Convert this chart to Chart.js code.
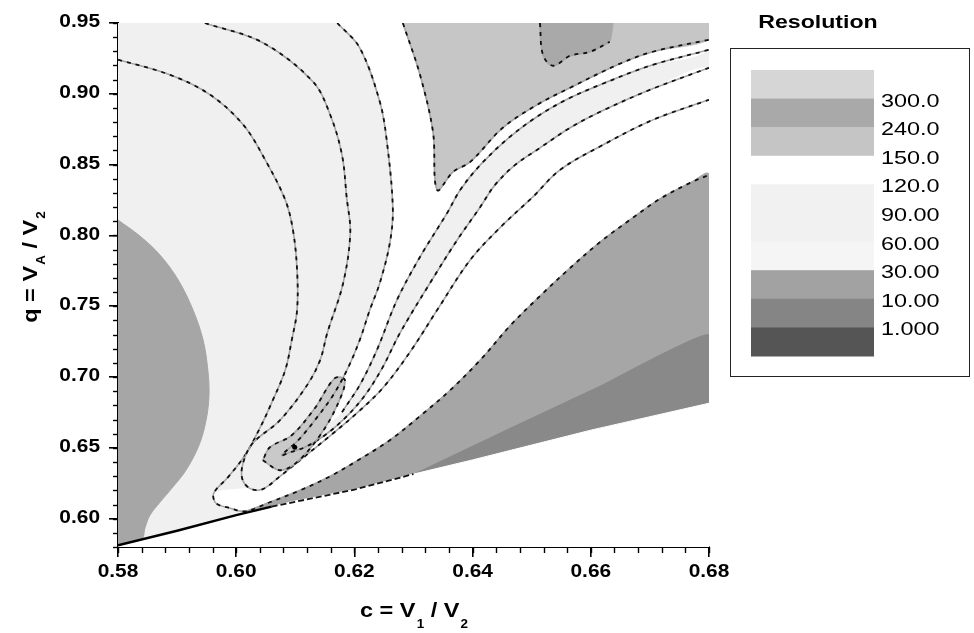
<!DOCTYPE html>
<html>
<head>
<meta charset="utf-8">
<title>Resolution contour map</title>
<script src="https://cdn.jsdelivr.net/npm/chart.js@4.4.1/dist/chart.umd.min.js"></script>
<style>
html,body{margin:0;padding:0;background:#ffffff;}
#box{position:relative;width:974px;height:633px;}
</style>
</head>
<body>
<div id="box"><canvas id="chart" width="974" height="633"></canvas></div>
<script>
// ---------------- axis ticks ----------------
const xTicks = [0.58, 0.60, 0.62, 0.64, 0.66, 0.68];
const yTicks = [0.60, 0.65, 0.70, 0.75, 0.80, 0.85, 0.90, 0.95];
const xMinorStep = 0.004;
const yMinorStep = 0.01;
const xTitleParts = [['c = V', false], ['1', true], [' / V', false], ['2', true]];
const yTitleParts = [['q = V', false], ['A', true], [' / V', false], ['2', true]];

// ---------------- legend ----------------
const legendTitle = 'Resolution';
const legendLevels = ['300.0', '240.0', '150.0', '120.0', '90.00', '60.00', '30.00', '10.00', '1.000'];

// ---------------- region boundaries (c = V1/V2 , q = VA/V2) ----------------
// lower edge of the valid domain
const domainEdgeC = [0.58, 0.59, 0.60, 0.61, 0.62, 0.63, 0.64, 0.65, 0.66, 0.67, 0.68];
const domainEdgeQ = [0.5812, 0.5915, 0.6025, 0.6125, 0.6205, 0.6315, 0.6415, 0.6520, 0.6625, 0.6720, 0.6815];
// outer contour, left branch
const outerLeftC = [0.58, 0.5888, 0.5956, 0.6012, 0.6049, 0.6083, 0.6096, 0.6103, 0.6103, 0.6094, 0.6083, 0.6062, 0.6040, 0.6015, 0.5986, 0.5962, 0.5966, 0.5990];
const outerLeftQ = [0.9241, 0.9134, 0.8993, 0.8781, 0.8534, 0.8251, 0.8039, 0.7756, 0.7473, 0.7261, 0.7049, 0.6837, 0.6639, 0.6448, 0.6292, 0.6179, 0.6109, 0.6074];
// edge of the lower-right grey region (outer contour, right branch)
const mediumEdgeC = [0.6015, 0.6057, 0.6108, 0.6159, 0.6209, 0.6260, 0.6311, 0.6362, 0.6413, 0.6463, 0.6514, 0.6565, 0.6616, 0.6666, 0.6717, 0.6768, 0.68];
const mediumEdgeQ = [0.6052, 0.6116, 0.6200, 0.6299, 0.6420, 0.6554, 0.6724, 0.6907, 0.7120, 0.7360, 0.7572, 0.7770, 0.7954, 0.8109, 0.8258, 0.8371, 0.8427];
// darkest wedge upper edge
const darkEdgeC = [0.6286, 0.6446, 0.6616, 0.68];
const darkEdgeQ = [0.6285, 0.6603, 0.6936, 0.7296];
// second contour
const midLeftC = [0.5947, 0.6045, 0.6130, 0.6159, 0.6179, 0.6187, 0.6193, 0.6181, 0.6154, 0.6142, 0.6120, 0.6074, 0.6028, 0.6012, 0.6010, 0.6023, 0.6044];
const midLeftQ = [0.95, 0.9361, 0.9085, 0.8852, 0.8569, 0.8265, 0.8017, 0.7664, 0.7310, 0.7120, 0.6943, 0.6695, 0.6533, 0.6399, 0.6285, 0.6214, 0.6207];
const midRightC = [0.6074, 0.6108, 0.6164, 0.6206, 0.6248, 0.6294, 0.6340, 0.6396, 0.6451, 0.6502, 0.6548, 0.6621, 0.6705, 0.68];
const midRightQ = [0.6299, 0.6413, 0.6603, 0.6752, 0.6922, 0.7176, 0.7473, 0.7827, 0.8074, 0.8272, 0.8463, 0.8640, 0.8816, 0.8958];
// third contour
const innerLeftC = [0.6171, 0.6209, 0.6243, 0.6255, 0.6265, 0.6260, 0.6243, 0.6226, 0.6209, 0.6189, 0.6164, 0.6133, 0.6105, 0.6077];
const innerLeftQ = [0.95, 0.9325, 0.8944, 0.8661, 0.8194, 0.7947, 0.7664, 0.7473, 0.7261, 0.7063, 0.6872, 0.6695, 0.6554, 0.6448];
const innerRightC = [0.6091, 0.6116, 0.6150, 0.6184, 0.6218, 0.6248, 0.6277, 0.6328, 0.6374, 0.6413, 0.6438, 0.6472, 0.6514, 0.6565, 0.6616, 0.6700, 0.68];
const innerRightQ = [0.6469, 0.6504, 0.6589, 0.6710, 0.6872, 0.7070, 0.7310, 0.7664, 0.7968, 0.8201, 0.8357, 0.8498, 0.8618, 0.8760, 0.8873, 0.9028, 0.9184];
// branch contour next to the white band
const branchC = [0.6179, 0.6209, 0.6238, 0.6272, 0.6311, 0.6357, 0.6379, 0.6413, 0.6463, 0.6514, 0.6565, 0.6616, 0.6700, 0.68];
const branchQ = [0.6752, 0.6943, 0.7190, 0.7544, 0.7848, 0.8159, 0.8321, 0.8498, 0.8696, 0.8852, 0.8972, 0.9064, 0.9198, 0.9311];
// upper grey plateau (150-240)
const plateauC = [0.6282, 0.6311, 0.6333, 0.6340, 0.6367, 0.6396, 0.6451, 0.6509, 0.6565, 0.6649, 0.6705, 0.68];
const plateauQ = [0.95, 0.9134, 0.8731, 0.8321, 0.8449, 0.8519, 0.8760, 0.8922, 0.9043, 0.9212, 0.9297, 0.9382];
// top peak patch (240-300)
const peakC = [0.6514, 0.6519, 0.6536, 0.6565, 0.6599, 0.6632, 0.6638];
const peakQ = [0.95, 0.9276, 0.9198, 0.9269, 0.9297, 0.9368, 0.95];
// small grey patch in the valley
const valleyC = [0.6045, 0.6074, 0.6103, 0.6142, 0.6171, 0.6184, 0.6167, 0.6133, 0.6094, 0.6057];
const valleyQ = [0.6413, 0.6342, 0.6399, 0.6589, 0.6801, 0.6978, 0.6992, 0.6780, 0.6589, 0.6504];
const valleyDotC = [0.6099];
const valleyDotQ = [0.6504];
// left grey lobe
const blobC = [0.58, 0.5837, 0.5871, 0.5902, 0.5927, 0.5944, 0.5952, 0.5954, 0.5949, 0.5937, 0.5915, 0.5891, 0.5871, 0.5854, 0.5846, 0.5839, 0.58];
const blobQ = [0.8109, 0.7996, 0.7862, 0.7685, 0.7473, 0.7261, 0.7049, 0.6872, 0.6695, 0.6518, 0.6342, 0.6214, 0.6116, 0.6024, 0.5939, 0.5847, 0.5812];
// axis extents
const cRange = [0.58, 0.68];
const qRange = [0.58, 0.95];

// ---------------- build ----------------
const P = (cs, qs) => cs.map((c, i) => ({x: c, y: qs[i]}));
const rev = a => a.slice().reverse();
const corner = (c, q) => ({x: c, y: q});

const domainEdge = P(domainEdgeC, domainEdgeQ);
const outerLeft = P(outerLeftC, outerLeftQ);
const mediumEdge = P(mediumEdgeC, mediumEdgeQ);
const darkEdge = P(darkEdgeC, darkEdgeQ);
const midLeft = P(midLeftC, midLeftQ);
const midRight = P(midRightC, midRightQ);
const innerLeft = P(innerLeftC, innerLeftQ);
const innerRight = P(innerRightC, innerRightQ);
const branch = P(branchC, branchQ);
const plateau = P(plateauC, plateauQ);
const peak = P(peakC, peakQ);
const valley = P(valleyC, valleyQ);
const blob = P(blobC, blobQ);

const C = {
  base: '#f0f0f0', white: '#ffffff', plateau: '#c6c6c6', peak: '#a9a9a9',
  medium: '#a6a6a6', dark: '#898989', valley: '#c9c9c9'
};
const TENSION = 0.35;

function area(pts, color, tension) {
  return {data: pts, showLine: true, fill: 'shape', backgroundColor: color, borderColor: color,
          borderWidth: 1, pointRadius: 0, tension: tension === undefined ? TENSION : tension};
}
function contour(pts) {
  return [
    {data: pts, showLine: true, fill: false, borderColor: '#a4a4a4', borderWidth: 1.6, pointRadius: 0, tension: TENSION},
    {data: pts, showLine: true, fill: false, borderColor: '#111111', borderWidth: 1.8, borderDash: [4, 5], pointRadius: 0, tension: TENSION}
  ];
}

const layers = [];
// background fills, back to front
layers.push(area([corner(cRange[0], qRange[1]), corner(cRange[1], qRange[1]), corner(cRange[1], qRange[0]), corner(cRange[0], qRange[0])], C.base, 0));
layers.push(area(innerLeft.concat(branch, [corner(cRange[1], qRange[1])]), C.white));
layers.push(area(mediumEdge.concat(rev(midRight), rev(midLeft.slice(-2)), outerLeft.slice(-3)), C.white));
layers.push(area(innerRight.concat(rev(midRight)), C.white));
layers.push(area(plateau.concat([corner(cRange[1], qRange[1])]), C.plateau));
layers.push(area(peak, C.peak, 0.15));
layers.push(area(mediumEdge.concat([corner(cRange[1], qRange[0]), corner(0.60, qRange[0])]), C.medium));
layers.push(area(darkEdge.concat([corner(cRange[1], qRange[0]), corner(0.62, qRange[0])]), C.dark, 0.1));
layers.push(area(blob, C.medium));
layers.push(area(valley, C.valley));
layers.push(area(domainEdge.concat([corner(cRange[1], qRange[0]), corner(cRange[0], qRange[0])]), C.white, 0));
// contour lines
contour(outerLeft.concat(mediumEdge)).forEach(d => layers.push(d));
contour(midLeft.concat(midRight)).forEach(d => layers.push(d));
contour(innerLeft.concat(innerRight)).forEach(d => layers.push(d));
contour(branch).forEach(d => layers.push(d));
contour(plateau).forEach(d => layers.push(d));
contour(peak.slice(0, -1)).forEach(d => layers.push(d));
contour(valley.concat([valley[0]])).forEach(d => layers.push(d));
// domain edge
layers.push({data: domainEdge.slice(0, 3).concat([{x: 0.606, y: 0.6085}]), showLine: true, fill: false, borderColor: '#000', borderWidth: 2.4, pointRadius: 0, tension: 0});
layers.push({data: [{x: 0.606, y: 0.6085}].concat(domainEdge.slice(4, 6)), showLine: true, fill: false, borderColor: '#111', borderWidth: 1.8, borderDash: [6, 3], pointRadius: 0, tension: 0});
layers.push({data: P(valleyDotC, valleyDotQ), showLine: false, pointRadius: 2.5, pointBackgroundColor: '#000', pointBorderWidth: 0});

const datasets = layers.reverse();

// ---------------- decoration plugin ----------------
const FONT = '"Liberation Sans", Arial, Helvetica, sans-serif';
function stretchText(ctx, text, x, y, font, sx, align, baseline) {
  ctx.save();
  ctx.font = font; ctx.textAlign = align; ctx.textBaseline = baseline; ctx.fillStyle = '#000';
  ctx.translate(x, y); ctx.scale(sx, 1); ctx.fillText(text, 0, 0);
  ctx.restore();
}
function subTitle(ctx, parts, x, y, angle, sx, subDrop) {
  const big = 'bold 21px ' + FONT, small = 'bold 12px ' + FONT;
  ctx.save();
  ctx.translate(x, y); ctx.rotate(angle); ctx.scale(sx, 1);
  ctx.fillStyle = '#000'; ctx.textBaseline = 'alphabetic'; ctx.textAlign = 'left';
  let total = 0;
  parts.forEach(([t, s]) => { ctx.font = s ? small : big; total += ctx.measureText(t).width + (s ? 1 : 0); });
  let px = -total / 2;
  parts.forEach(([t, s]) => {
    ctx.font = s ? small : big;
    ctx.fillText(t, px + (s ? 1 : 0), s ? subDrop : 0);
    px += ctx.measureText(t).width + (s ? 1 : 0);
  });
  ctx.restore();
}
const decor = {
  id: 'decor',
  afterDraw(chart) {
    const {ctx, chartArea: a, scales: {x, y}} = chart;
    ctx.save();
    // minor ticks
    ctx.strokeStyle = '#000'; ctx.lineWidth = 1.4;
    for (let v = cRange[0]; v <= cRange[1] + 1e-9; v += xMinorStep) {
      const px = Math.round(x.getPixelForValue(v)) + 0.5;
      ctx.beginPath(); ctx.moveTo(px, a.bottom); ctx.lineTo(px, a.bottom + 6); ctx.stroke();
    }
    for (let v = qRange[0]; v <= qRange[1] + 1e-9; v += yMinorStep) {
      const py = Math.round(y.getPixelForValue(v)) + 0.5;
      ctx.beginPath(); ctx.moveTo(a.left, py); ctx.lineTo(a.left - 5, py); ctx.stroke();
    }
    // tick labels
    const tf = 'bold 19px ' + FONT;
    xTicks.forEach(v => stretchText(ctx, v.toFixed(2), x.getPixelForValue(v), a.bottom + 25, tf, 1.1, 'center', 'middle'));
    yTicks.forEach(v => stretchText(ctx, v.toFixed(2), a.left - 18, y.getPixelForValue(v) - 1, tf, 1.1, 'right', 'middle'));
    // axis titles
    subTitle(ctx, xTitleParts, (a.left + a.right) / 2 + 0.5, 617, 0, 1.12, 11);
    subTitle(ctx, yTitleParts, 37, 267, -Math.PI / 2, 1.12, 8);
    // legend
    const L = {left: 730.5, top: 48.5, w: 239, h: 328, swX: 751, swW: 123, bandTop: 70, bandH: 28.6, labX: 881};
    const bandColors = ['#d6d6d6', '#a9a9a9', '#c5c5c5', '#ffffff', '#f1f1f1', '#f1f1f1', '#f5f5f5', '#a2a2a2', '#858585', '#555555'];
    bandColors.forEach((c, i) => { ctx.fillStyle = c; ctx.fillRect(L.swX, L.bandTop + i * L.bandH, L.swW, L.bandH + 0.5); });
    ctx.strokeStyle = '#222'; ctx.lineWidth = 1;
    ctx.strokeRect(L.left, L.top, L.w, L.h);
    legendLevels.forEach((t, i) => stretchText(ctx, t, L.labX, L.bandTop + (i + 1) * L.bandH + 3, '18px ' + FONT, 1.3, 'left', 'middle'));
    stretchText(ctx, legendTitle, 818, 28, 'bold 18.5px ' + FONT, 1.25, 'center', 'alphabetic');
    ctx.restore();
  }
};

new Chart(document.getElementById('chart'), {
  type: 'scatter',
  data: {datasets},
  options: {
    responsive: false,
    animation: false,
    devicePixelRatio: 1,
    events: [],
    layout: {padding: {top: 23, right: 265, left: 0, bottom: 0}},
    plugins: {legend: {display: false}, tooltip: {enabled: false}},
    scales: {
      x: {
        type: 'linear', min: cRange[0], max: cRange[1],
        afterBuildTicks: s => { s.ticks = xTicks.map(v => ({value: v})); },
        afterFit: s => { s.height = 86; },
        grid: {display: true, drawOnChartArea: false, drawTicks: true, tickLength: 10, color: '#000', lineWidth: 1.6},
        border: {display: true, color: '#000', width: 2},
        ticks: {display: false}
      },
      y: {
        type: 'linear', min: qRange[0], max: qRange[1],
        afterBuildTicks: s => { s.ticks = yTicks.map(v => ({value: v})); },
        afterFit: s => { s.width = 118; },
        grid: {display: true, drawOnChartArea: false, drawTicks: true, tickLength: 9, color: '#000', lineWidth: 1.6},
        border: {display: true, color: '#000', width: 2},
        ticks: {display: false}
      }
    }
  },
  plugins: [decor]
});
</script>
</body>
</html>
